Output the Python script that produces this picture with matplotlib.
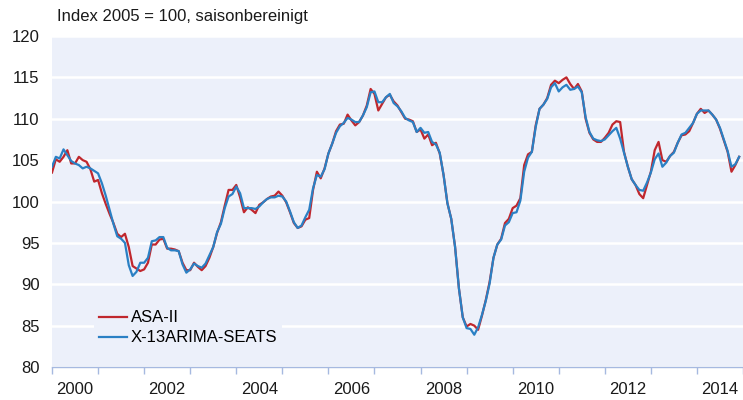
import numpy as np
import matplotlib
matplotlib.use("Agg")
import matplotlib.pyplot as plt

plt.rcParams['font.family'] = ['Liberation Sans', 'DejaVu Sans']

# monthly values, Jan 2000 onwards
asa2 = [103.5, 105.1, 104.8, 105.4, 106.2, 104.6, 104.6, 105.4, 105.0, 104.8, 103.9, 102.4,
        102.6, 101.0, 99.7, 98.5, 97.4, 96.1, 95.7, 96.1, 94.5, 92.2, 91.9, 91.6,
        91.8, 92.6, 94.8, 94.8, 95.4, 95.5, 94.3, 94.3, 94.2, 94.0, 92.6, 91.7,
        91.7, 92.6, 92.1, 91.7, 92.2, 93.2, 94.5, 96.2, 97.5, 99.5, 101.4, 101.4,
        102.0, 100.5, 98.7, 99.3, 99.0, 98.6, 99.6, 99.9, 100.3, 100.6, 100.7, 101.2,
        100.7, 99.9, 98.7, 97.4, 96.8, 97.0, 97.8, 98.0, 101.4, 103.6, 102.8, 104.0,
        105.8, 107.0, 108.5, 109.3, 109.4, 110.5, 109.8, 109.2, 109.6, 110.4, 111.6, 113.6,
        113.0, 111.0, 111.8, 112.6, 112.9, 112.1, 111.6, 110.8, 110.0, 109.9, 109.7, 108.4,
        108.7, 107.6, 108.1, 106.8, 107.1, 105.8, 103.2, 99.8, 97.9, 94.5, 89.5, 86.0,
        84.9, 85.2, 85.0, 84.5, 86.2, 88.1, 90.3, 93.2, 94.8, 95.5, 97.4, 97.9,
        99.2, 99.5, 100.4, 104.4, 105.7, 106.0, 109.2, 111.2, 111.7, 112.5, 114.1, 114.6,
        114.3, 114.7, 115.0, 114.2, 113.6, 114.2, 113.3, 110.0, 108.3, 107.5, 107.2, 107.2,
        107.7, 108.3, 109.3, 109.7, 109.6, 106.0, 104.2, 102.7, 102.0, 100.9, 100.4, 102.0,
        103.6, 106.2, 107.2, 105.0, 104.8, 105.5, 106.0, 107.1, 108.0, 108.1, 108.5, 109.5,
        110.6, 111.2, 110.7, 111.0, 110.5, 109.9, 108.8, 107.4, 106.0, 103.6, 104.4, 105.4]

x13 = [104.2, 105.4, 105.2, 106.3, 105.6, 104.9, 104.6, 104.4, 104.0, 104.2, 104.0, 103.7,
       103.4, 102.2, 100.7, 99.0, 97.3, 95.8, 95.5, 95.0, 92.3, 91.0, 91.5, 92.6,
       92.6, 93.2, 95.2, 95.3, 95.7, 95.7, 94.4, 94.1, 94.1, 94.0, 92.4, 91.4,
       91.8, 92.5, 92.2, 92.0, 92.5, 93.5, 94.5, 96.3, 97.3, 99.2, 100.6, 100.9,
       101.8, 101.0, 99.2, 99.2, 99.2, 99.1, 99.4, 99.9, 100.3, 100.5, 100.5, 100.7,
       100.6, 100.0, 98.8, 97.5, 96.8, 97.1, 98.1, 99.0, 101.6, 103.2, 103.0, 103.9,
       105.8, 107.0, 108.3, 109.1, 109.5, 110.1, 109.9, 109.6, 109.6, 110.4, 111.4, 113.2,
       113.3, 112.0, 112.0, 112.6, 113.0, 111.9, 111.5, 110.9, 110.1, 109.8, 109.6, 108.4,
       108.9, 108.3, 108.4, 107.2, 106.9, 105.9, 103.2, 99.8, 97.9, 94.5, 89.5, 86.0,
       84.7, 84.6, 83.9, 84.8, 86.3, 88.0, 90.1, 93.2, 94.8, 95.4, 97.1, 97.5,
       98.6, 98.7, 100.1, 103.6, 105.3, 106.0, 109.0, 111.2, 111.7, 112.4, 113.8, 114.3,
       113.3, 113.8, 114.1, 113.5, 113.6, 113.9, 113.2, 110.2, 108.4, 107.6, 107.4, 107.3,
       107.5, 108.0, 108.5, 108.9, 107.6, 105.9, 104.2, 102.7, 102.0, 101.4, 101.3, 102.3,
       103.5, 105.1, 105.8, 104.2, 104.7, 105.5, 105.9, 107.1, 108.1, 108.3, 108.9, 109.5,
       110.6, 111.0, 111.0, 111.0, 110.5, 109.9, 108.9, 107.5, 106.1, 104.2, 104.5, 105.4]

year_labels = ['2000', '2002', '2004', '2006', '2008', '2010', '2012', '2014']

bg = '#ECF0FA'
axis_col = '#A6B9E0'
txt = '#1A1A1A'

fig = plt.figure(figsize=(7.43, 4.0), dpi=100)
ax = fig.add_axes([52 / 743, 33 / 400, 691 / 743, 331 / 400])
ax.set_facecolor(bg)

months = np.arange(len(asa2))
ax.plot(months, asa2, color='#C0272D', lw=1.6, label='ASA-II', zorder=3)
ax.plot(months, x13, color='#2A80C4', lw=1.6, label='X-13ARIMA-SEATS', zorder=4)

ax.set_xlim(0, 179.5)
ax.set_ylim(80, 120)
ax.set_yticks(np.arange(80, 121, 5))
ax.yaxis.grid(True, color='white', lw=1.8)
ax.set_axisbelow(True)
ax.tick_params(axis='y', length=0, labelsize=12, pad=9, colors=txt)

ax.set_xticks(np.arange(0, 181, 12))
ax.set_xticklabels([])
ax.set_xticks(np.arange(6, 180, 24), minor=True)
ax.set_xticklabels(year_labels, minor=True)
ax.tick_params(axis='x', which='major', length=5, color=axis_col, width=1)
ax.tick_params(axis='x', which='minor', length=0, labelsize=12, pad=11, colors=txt)

for s in ['top', 'right', 'left']:
    ax.spines[s].set_visible(False)
ax.spines['bottom'].set_color(axis_col)
ax.spines['bottom'].set_linewidth(1)

fig.text(57 / 743, 1 - 17 / 400, 'Index 2005 = 100, saisonbereinigt', fontsize=12,
         va='center', ha='left', color=txt)

leg = ax.legend(loc='lower left', bbox_to_anchor=(0.061, 0.05), fontsize=12,
                frameon=True, facecolor=bg, edgecolor='none', framealpha=1,
                handlelength=1.7, handletextpad=0.2, borderpad=0.3, labelspacing=0.3,
                borderaxespad=0)
leg.get_frame().set_boxstyle('square', pad=0)

fig.savefig('out.png', dpi=100)
